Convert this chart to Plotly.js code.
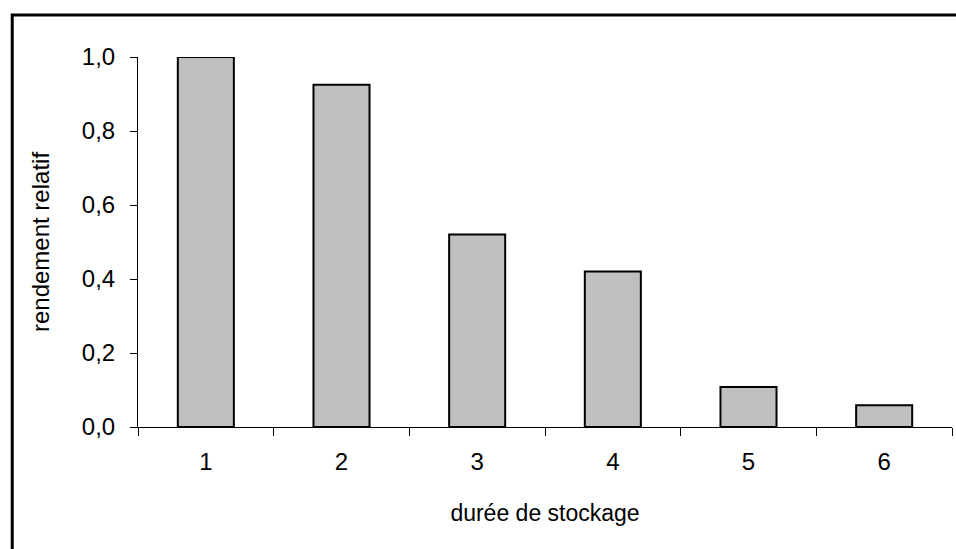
<!DOCTYPE html>
<html>
<head>
<meta charset="utf-8">
<script src="https://cdn.plot.ly/plotly-3.0.1.min.js"></script>
<style>
html,body{margin:0;padding:0;overflow:hidden;background:#fff;}
#chart{width:956px;height:549px;}
</style>
</head>
<body>
<div id="chart"></div>
<script>
const categories = ["1", "2", "3", "4", "5", "6"];
const rendementRelatif = [1.0, 0.925, 0.52, 0.42, 0.108, 0.059];
const yTickValues = [0, 0.2, 0.4, 0.6, 0.8, 1.0];
const xTitle = "durée de stockage";
const yTitle = "rendement relatif";

const trace = {
  type: "bar",
  x: categories,
  y: rendementRelatif,
  marker: {color: "#c0c0c0", line: {color: "#000000", width: 2}},
  cliponaxis: false,
  hoverinfo: "x+y"
};

const layout = {
  width: 956,
  height: 549,
  margin: {l: 138, r: 4, t: 57, b: 122},
  paper_bgcolor: "#ffffff",
  plot_bgcolor: "#ffffff",
  separators: ", ",
  font: {family: "Liberation Sans, Arial, sans-serif", color: "#000000"},
  showlegend: false,
  bargap: 0.587,
  xaxis: {
    type: "category",
    range: [-0.5, 5.5],
    showline: true,
    linecolor: "#000000",
    linewidth: 1,
    ticks: "outside",
    tickson: "boundaries",
    ticklen: 8,
    tickcolor: "#000000",
    tickwidth: 1,
    showgrid: false,
    zeroline: false,
    tickfont: {size: 24, color: "#000000"},
    ticklabelstandoff: 13,
    title: {text: xTitle, font: {size: 23, color: "#000000"}, standoff: 31},
    automargin: false,
    fixedrange: true
  },
  yaxis: {
    range: [0, 1.0],
    tickvals: yTickValues,
    tickformat: ".1f",
    showline: true,
    linecolor: "#000000",
    linewidth: 1,
    ticks: "outside",
    ticklen: 7,
    tickcolor: "#000000",
    tickwidth: 1,
    showgrid: false,
    zeroline: false,
    tickfont: {size: 24, color: "#000000"},
    ticklabelstandoff: 10,
    title: {text: yTitle, font: {size: 24, color: "#000000"}, standoff: 25},
    automargin: false,
    fixedrange: true
  },
  shapes: [{
    type: "rect",
    xref: "paper", yref: "paper",
    x0: -0.1545, x1: 1.05,
    y0: -0.4, y1: 1.1135,
    line: {color: "#000000", width: 3},
    fillcolor: "rgba(0,0,0,0)",
    layer: "below"
  }]
};

Plotly.newPlot("chart", [trace], layout, {displayModeBar: false, staticPlot: false});
</script>
</body>
</html>
